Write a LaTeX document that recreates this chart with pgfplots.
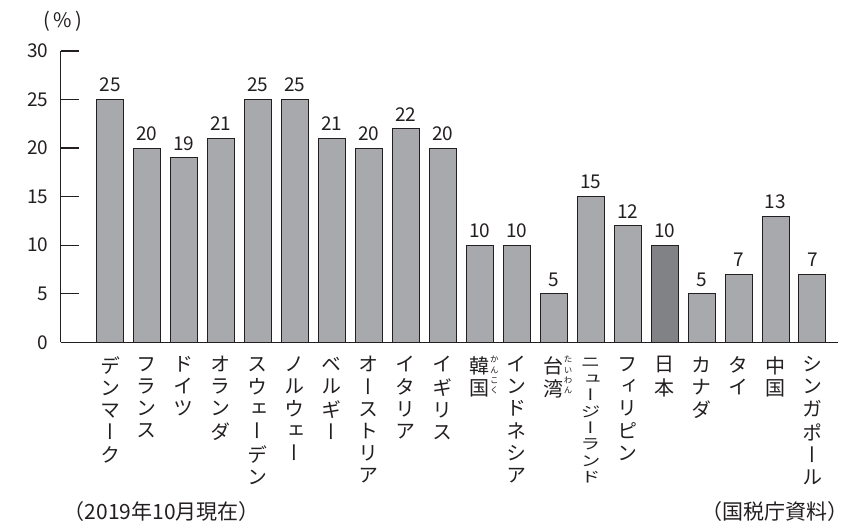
\documentclass[border=0pt]{standalone}
\usepackage{fontspec}
\setmainfont{Noto Sans CJK JP}
\newfontfamily\jpv[RawFeature=+vert]{Noto Sans CJK JP}
\usepackage{graphicx}
\usepackage{pgfplots}
\pgfplotsset{compat=1.18}
\definecolor{barg}{RGB}{167,169,172}
\definecolor{bard}{RGB}{128,130,133}
\definecolor{ink}{RGB}{35,31,32}
\newcommand{\vl}[1]{\begin{tabular}[t]{@{}c@{}}#1\end{tabular}}
\newcommand{\ruby}[2]{\rlap{\kern0.3pt\raisebox{#1}[0pt][0pt]{\fontsize{8.5}{10.3}\selectfont\begin{tabular}[t]{@{}c@{}}#2\end{tabular}}}}
\begin{document}
\begin{tikzpicture}
\path[use as bounding box] (-60.5pt,-181.7pt) rectangle (787.5pt,342.3pt);
\begin{axis}[
  at={(0pt,0pt)}, anchor=south west,
  scale only axis, width=777.5pt, height=291.3pt,
  xmin=-1.339, xmax=19.69, ymin=0, ymax=30,
  axis lines=left, axis line style={-, draw=ink, line width=1.3pt},
  ytick={0,5,10,15,20,25,30},
  tick align=inside, major tick length=19pt,
  y tick style={draw=ink, line width=1.3pt},
  xtick={0,...,19}, x tick style={draw=none},
  /pgf/number format/assume math mode=true,
  yticklabel style={font=\fontsize{19}{22}\selectfont, inner sep=0pt, xshift=-12pt, text=ink},
  xticklabel style={font=\jpv\fontsize{20}{22}\selectfont, anchor=north, inner sep=0pt, yshift=-14pt, text=ink},
  xticklabels={
    {\vl{デ\\ン\\マ\\ー\\ク}},
    {\vl{フ\\ラ\\ン\\ス}},
    {\vl{ド\\イ\\ツ}},
    {\vl{オ\\ラ\\ン\\ダ}},
    {\vl{ス\\ウ\\ェ\\ー\\デ\\ン}},
    {\vl{ノ\\ル\\ウ\\ェ\\ー}},
    {\vl{ベ\\ル\\ギ\\ー}},
    {\vl{オ\\ー\\ス\\ト\\リ\\ア}},
    {\vl{イ\\タ\\リ\\ア}},
    {\vl{イ\\ギ\\リ\\ス}},
    {\vl{韓\ruby{10.5pt}{か\\ん\\こ\\く}\\国}},
    {\vl{イ\\ン\\ド\\ネ\\シ\\ア}},
    {\vl{台\ruby{10.5pt}{た\\い\\わ\\ん}\\湾}},
    {\scalebox{1}[0.74]{\vl{ニ\\ュ\\ー\\ジ\\ー\\ラ\\ン\\ド}}},
    {\vl{フ\\ィ\\リ\\ピ\\ン}},
    {\vl{日\\本}},
    {\vl{カ\\ナ\\ダ}},
    {\vl{タ\\イ}},
    {\vl{中\\国}},
    {\vl{シ\\ン\\ガ\\ポ\\ー\\ル}}
  },
  clip=false,
]
\addplot[ybar, bar width=27pt, bar shift=0pt, fill=barg, draw=ink, line width=1pt,
  nodes near coords,
  every node near coord/.append style={font=\fontsize{19}{22}\selectfont, inner sep=0pt, anchor=south, yshift=7pt, text=ink}]
  coordinates {
  (0,25) (1,20) (2,19) (3,21) (4,25) (5,25) (6,21) (7,20) (8,22) (9,20)
  (10,10) (11,10) (12,5) (13,15) (14,12) (15,10) (16,5) (17,7) (18,13) (19,7)
  };
\addplot[ybar, bar width=27pt, bar shift=0pt, fill=bard, draw=ink, line width=1pt]
  coordinates {(15,10)};
\node[font=\fontsize{20}{22}\selectfont, text=ink] at (axis description cs:0.0032,1.102) {(\,\%\,)};
\node[font=\fontsize{21}{24}\selectfont, text=ink, anchor=west, inner sep=0pt] at (axis description cs:0.004,-0.5826) {（2019年10月現在）};
\node[font=\fontsize{21}{24}\selectfont, text=ink, anchor=east, inner sep=0pt] at (axis description cs:1.014,-0.5826) {（国税庁資料）};
\end{axis}
\end{tikzpicture}
\end{document}
